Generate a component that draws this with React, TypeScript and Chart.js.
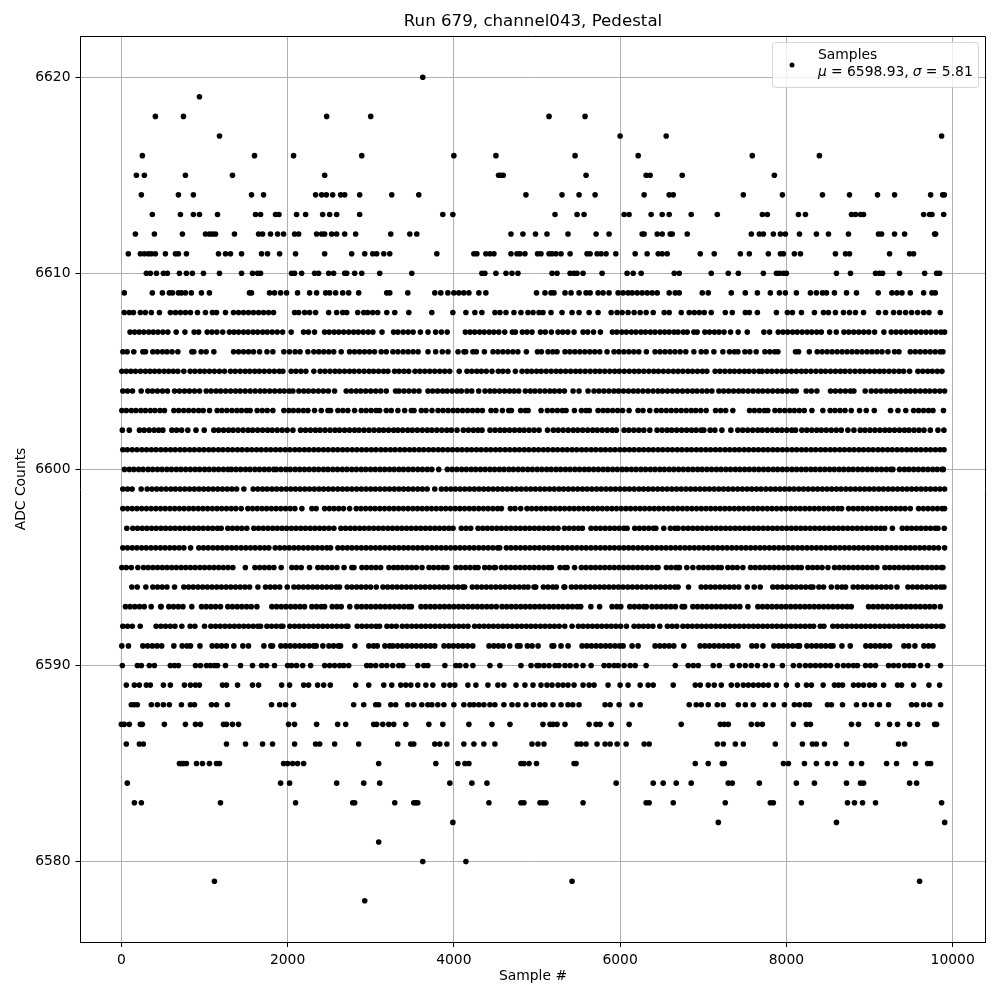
import React, { useEffect, useRef } from "react";
import { Chart, registerables } from "chart.js";

Chart.register(...registerables);

const titleText = "Run 679, channel043, Pedestal";
const xLabel = "Sample #";
const yLabel = "ADC Counts";
const legendName = "Samples";
const legendMean = "6598.93";
const legendSigma = "5.81";
const xTickValues = [0,2000,4000,6000,8000,10000];
const yTickValues = [6580,6590,6600,6610,6620];

const row6620 = [3626];
const row6619 = [940];
const row6618 = [410,747,2470,3000,5145,5578];
const row6617 = [1181,6000,6554,9867];
const row6616 = [253,1602,2072,2892,4000,4506,5458,6217,7590,8397];
const row6615 = [181,277,771,1337,2446,4538,4562,4594,5590,6313,6361,6747,7855];
const row6614 = [241,687,867,1566,1711,2337,2410,2466,2542,2638,2687,2867,3253,3578,4867,5301,5506,5699,6289,6590,6639,7482,7952,8434,8759,9096,9301,9735,9880,9900];
const row6613 = [373,711,867,940,1157,1614,1675,1855,1896,2108,2217,2422,2506,2590,2867,3867,3988,5217,5482,5566,6048,6108,6373,6506,6590,6855,7169,7711,7771,8145,8229,8783,8831,8892,8928,9651,9723,9751,9892];
const row6612 = [169,398,735,1012,1060,1096,1133,1361,1651,1699,1795,1880,1952,2084,2133,2349,2410,2446,2530,2590,2687,2819,3241,3470,3554,4687,4831,4982,5120,5373,5711,5867,6265,6289,6446,6506,6602,6627,6807,7578,7675,7723,7843,7928,7988,8157,8361,8506,8747,9108,9145,9301,9422,9783,9795];
const row6611 = [84,229,277,325,361,410,530,651,687,783,1169,1253,1313,1446,1687,1759,1904,2096,2446,2771,2928,3024,3072,3157,3229,3795,4241,4277,4385,4434,4482,4687,4759,4795,4855,5006,5048,5145,5181,5229,5289,5398,5602,5639,5723,5771,5831,5948,6181,6325,6458,6506,6566,6964,7132,7446,7554,7783,7928,7964,8096,8169,8590,8711,8759,9241,9482,9530];
const row6610 = [301,349,422,506,554,699,783,855,988,1181,1446,1578,1639,1675,2048,2084,2169,2325,2373,2494,2554,2687,2711,2807,2892,3108,3494,4337,4373,4506,4627,4699,4771,5181,5241,5398,5446,5482,5554,5783,6084,6157,6253,6651,6711,7096,7301,7422,7723,7880,7916,7964,8000,8602,8771,9072,9120,9157,9361,9663,9807,9843];
const row6609 = [36,373,494,578,615,687,723,771,843,964,1060,1542,1566,1783,1843,1916,1988,2120,2265,2349,2458,2506,2578,2663,2735,2855,3193,3229,3446,3771,3843,3928,4000,4060,4120,4181,4301,4385,4994,5096,5169,5205,5337,5410,5506,5590,5639,5735,5795,5867,5976,6036,6096,6145,6205,6265,6325,6386,6446,6590,6663,6711,6988,7060,7337,7506,7651,7807,7916,7988,8120,8289,8361,8434,8482,8578,8723,8843,9104,9269,9329,9390,9490,9651,9751,9791];
const row6608 = [36,96,145,229,289,361,458,590,651,711,771,831,916,1012,1096,1145,1253,1349,1410,1470,1530,1590,1651,1711,1771,1831,2084,2133,2205,2265,2337,2494,2590,2663,2711,2843,2916,2964,3024,3084,3193,3289,3458,3735,3988,4145,4253,4337,4494,4554,4627,4723,4807,4891,4952,5024,5072,5169,5301,5422,5506,5627,5735,5892,5964,6024,6096,6169,6241,6313,6398,6530,6590,6735,6831,6892,6952,7012,7096,7265,7349,7506,7554,7651,7880,8012,8072,8181,8337,8446,8506,8590,8687,8759,8831,8928,9108,9193,9289,9361,9434,9506,9578,9651,9715,9851];
const row6607 = [105,160,215,270,330,385,440,500,560,660,765,876,930,1033,1090,1150,1220,1300,1355,1410,1470,1525,1585,1640,1700,1755,1815,1875,1940,2043,2192,2250,2324,2445,2500,2560,2615,2675,2735,2795,2850,2910,2970,3026,3136,3275,3327,3390,3450,3510,3597,3689,3781,3850,3920,4138,4195,4250,4310,4365,4425,4480,4540,4612,4704,4740,4824,4880,4940,5041,5100,5173,5253,5310,5370,5446,5554,5610,5680,5763,5907,5960,6020,6075,6135,6190,6250,6305,6365,6420,6480,6535,6590,6650,6697,6760,6807,6887,6927,7019,7075,7135,7190,7250,7328,7420,7529,7729,7798,7902,7960,8015,8075,8130,8190,8250,8305,8365,8420,8520,8600,8692,8750,8810,8870,8930,8990,9061,9173,9261,9320,9380,9440,9500,9560,9620,9680,9740,9800,9860,9903];
const row6606 = [18,70,150,259,291,379,435,495,550,610,680,848,872,960,1020,1113,1350,1410,1470,1530,1590,1663,1752,1823,1955,2023,2091,2150,2244,2316,2375,2435,2495,2555,2645,2745,2805,2865,2925,2985,3046,3126,3187,3267,3327,3390,3450,3510,3570,3689,3781,3861,3930,4050,4122,4142,4230,4270,4367,4471,4530,4590,4650,4710,4770,4872,5005,5053,5133,5190,5241,5337,5395,5455,5515,5575,5635,5695,5755,5843,5927,5985,6045,6105,6165,6225,6316,6420,6480,6540,6600,6660,6722,6790,6887,6975,7035,7128,7236,7316,7375,7417,7501,7560,7637,7741,7800,7860,7898,8110,8146,8275,8371,8430,8490,8550,8610,8670,8730,8790,8850,8910,8970,9030,9090,9150,9221,9301,9354,9490,9550,9610,9670,9730,9790,9850,9883];
const row6605 = [6,60,115,170,230,290,345,400,455,515,570,625,680,752,828,885,945,1000,1060,1120,1180,1241,1313,1370,1430,1490,1545,1605,1660,1720,1780,1840,1900,1943,2043,2100,2160,2220,2316,2392,2450,2510,2570,2625,2685,2745,2800,2860,2920,2980,3035,3095,3155,3207,3287,3340,3400,3457,3533,3590,3650,3710,3770,3830,3890,3950,4064,4158,4215,4275,4330,4390,4459,4535,4590,4650,4740,4820,4880,4935,4995,5050,5110,5170,5230,5285,5345,5405,5465,5520,5580,5640,5700,5755,5815,5875,5935,5990,6050,6110,6170,6225,6285,6345,6405,6460,6520,6580,6640,6697,6755,6815,6870,6930,6990,7043,7143,7200,7260,7320,7375,7435,7495,7550,7610,7670,7709,7769,7825,7885,7945,8000,8060,8120,8180,8235,8295,8355,8415,8470,8530,8590,8650,8705,8765,8825,8885,8940,9000,9060,9120,9175,9235,9295,9355,9410,9482,9582,9640,9700,9755,9815,9871];
const row6604 = [18,75,135,239,319,375,435,495,555,640,700,760,820,880,941,1021,1080,1140,1195,1255,1315,1375,1430,1490,1550,1610,1670,1725,1785,1845,1905,1960,2020,2064,2136,2195,2250,2310,2370,2430,2490,2565,2705,2765,2825,2880,2940,3000,3060,3120,3187,3299,3340,3400,3460,3520,3581,3689,3745,3805,3865,3920,3980,4040,4090,4158,4215,4299,4375,4435,4490,4550,4610,4670,4725,4780,4860,4920,4975,5035,5095,5155,5210,5270,5330,5434,5506,5614,5686,5745,5805,5865,5925,5980,6040,6100,6160,6215,6275,6335,6395,6455,6510,6570,6630,6690,6750,6810,6870,6925,6985,7045,7104,7188,7245,7305,7365,7425,7480,7540,7600,7660,7715,7775,7835,7895,7950,8010,8070,8118,8238,8300,8367,8531,8590,8650,8710,8770,8812,8948,9021,9080,9140,9200,9255,9315,9375,9435,9490,9550,9610,9670,9725,9785,9845,9903];
const row6603 = [6,60,120,175,235,290,350,405,465,519,632,690,750,810,870,930,985,1061,1153,1210,1270,1330,1390,1445,1505,1550,1634,1695,1755,1823,1955,2015,2070,2130,2190,2244,2324,2405,2485,2517,2605,2665,2725,2806,2886,2945,3005,3065,3107,3187,3247,3327,3408,3488,3521,3609,3665,3737,3810,3870,3930,3990,4045,4105,4165,4225,4285,4343,4447,4505,4584,4660,4692,4804,4860,4893,5049,5125,5185,5245,5305,5350,5450,5534,5590,5630,5735,5795,5850,5910,5970,6030,6108,6216,6275,6357,6437,6495,6555,6615,6675,6735,6795,6855,6910,6970,7035,7148,7210,7270,7356,7557,7615,7675,7735,7777,7862,7920,7980,8040,8095,8155,8215,8307,8439,8527,8585,8645,8705,8780,8880,8961,9057,9253,9342,9436,9530,9590,9650,9710,9763,9889];
const row6602 = [12,96,218,275,335,395,450,500,608,665,725,800,898,997,1113,1170,1230,1290,1345,1405,1465,1525,1580,1640,1700,1760,1815,1875,1935,1995,2064,2156,2215,2275,2335,2390,2450,2510,2570,2625,2685,2745,2805,2860,2920,2980,3040,3100,3155,3215,3275,3327,3385,3445,3500,3560,3620,3680,3735,3795,3855,3915,3970,4038,4114,4175,4235,4290,4339,4435,4495,4555,4610,4670,4730,4790,4845,4905,4965,5025,5127,5197,5255,5315,5375,5435,5490,5550,5610,5670,5725,5785,5845,5905,5955,6048,6105,6165,6225,6285,6357,6445,6505,6565,6620,6680,6740,6800,6860,6915,6975,7007,7083,7140,7224,7332,7416,7475,7535,7595,7655,7710,7770,7830,7890,7945,8005,8065,8110,8186,8245,8305,8365,8420,8480,8540,8600,8660,8740,8812,8888,8945,9005,9065,9125,9185,9240,9300,9360,9420,9475,9535,9595,9655,9731,9823,9895];
const row6601 = [18,72,131,188,247,303,362,418,476,533,592,648,707,763,822,878,937,993,1052,1108,1167,1223,1282,1338,1397,1453,1512,1568,1627,1683,1742,1798,1857,1913,1972,2028,2087,2143,2202,2258,2317,2373,2432,2488,2547,2603,2662,2718,2777,2833,2892,2948,3007,3063,3122,3178,3237,3293,3352,3408,3467,3523,3582,3638,3697,3753,3812,3868,3927,3983,4042,4098,4157,4213,4272,4328,4387,4443,4502,4558,4617,4673,4732,4788,4847,4903,4962,5018,5077,5133,5192,5248,5307,5363,5422,5478,5537,5593,5652,5708,5767,5823,5882,5938,5997,6053,6112,6168,6227,6283,6342,6398,6457,6513,6572,6628,6687,6743,6802,6858,6917,6973,7032,7088,7147,7203,7262,7318,7377,7433,7492,7548,7607,7663,7722,7778,7837,7893,7952,8008,8067,8123,8182,8238,8297,8353,8412,8468,8527,8583,8642,8698,8757,8813,8872,8928,8987,9043,9102,9158,9217,9273,9332,9388,9447,9503,9562,9618,9677,9733,9792,9848,9896];
const row6600 = [38,96,150,208,262,322,377,435,490,548,603,662,716,774,830,888,942,1002,1056,1114,1170,1228,1284,1325,1380,1436,1494,1548,1607,1662,1720,1775,1834,1865,1920,1978,2032,2091,2146,2204,2260,2318,2373,2432,2486,2544,2600,2658,2714,2772,2827,2886,2940,2998,3054,3112,3168,3226,3282,3340,3394,3452,3508,3566,3622,3680,3735,3818,3922,3980,4036,4094,4150,4208,4262,4320,4376,4434,4490,4548,4604,4662,4716,4774,4830,4888,4944,5002,5058,5116,5170,5228,5284,5342,5398,5456,5512,5570,5624,5682,5738,5796,5852,5910,5966,6024,6078,6136,6192,6250,6306,6364,6420,6478,6532,6590,6646,6704,6760,6818,6874,6932,6986,7044,7100,7158,7214,7272,7328,7386,7440,7498,7554,7612,7668,7726,7782,7840,7894,7952,8008,8066,8122,8180,8236,8294,8348,8406,8462,8520,8576,8634,8690,8748,8802,8860,8916,8974,9030,9088,9144,9202,9256,9281,9361,9420,9474,9532,9588,9646,9702,9760,9814,9872,9888];
const row6599 = [18,74,130,239,311,368,425,481,538,595,651,708,764,821,878,934,991,1047,1104,1160,1217,1274,1330,1387,1474,1586,1642,1699,1755,1812,1868,1925,1982,2038,2095,2151,2208,2264,2321,2378,2434,2491,2547,2604,2660,2717,2774,2830,2887,2943,3000,3056,3113,3170,3226,3283,3339,3396,3452,3509,3566,3622,3679,3770,3850,3906,3963,4019,4076,4132,4189,4246,4302,4359,4415,4472,4528,4585,4642,4698,4755,4811,4868,4924,4981,5038,5094,5151,5207,5264,5320,5377,5434,5490,5547,5603,5660,5716,5773,5830,5886,5943,5999,6056,6112,6169,6226,6282,6339,6395,6452,6508,6565,6622,6678,6735,6791,6848,6904,6961,7018,7074,7131,7187,7244,7300,7357,7414,7470,7527,7583,7640,7696,7753,7810,7866,7923,7979,8036,8092,8149,8206,8262,8319,8375,8432,8488,8545,8602,8658,8715,8771,8828,8884,8941,8998,9054,9111,9167,9224,9280,9337,9394,9450,9507,9563,9620,9676,9733,9790,9846,9903];
const row6598 = [18,75,132,188,245,302,358,415,472,528,585,642,698,755,812,868,925,982,1038,1095,1152,1208,1265,1322,1378,1442,1522,1578,1635,1692,1748,1805,1862,1918,1975,2032,2088,2172,2292,2344,2445,2502,2558,2615,2672,2746,2826,2882,2939,2996,3052,3109,3166,3222,3279,3336,3392,3449,3506,3562,3619,3676,3732,3789,3846,3902,3959,4016,4072,4129,4186,4242,4299,4356,4412,4469,4526,4572,4680,4736,4804,4880,4936,4993,5050,5106,5163,5220,5276,5333,5390,5446,5503,5560,5616,5673,5730,5786,5843,5900,5956,6013,6070,6126,6183,6240,6296,6353,6410,6466,6523,6580,6636,6693,6750,6806,6863,6920,6976,7033,7090,7146,7203,7260,7316,7373,7430,7486,7543,7600,7656,7713,7770,7826,7883,7940,7996,8053,8110,8166,8223,8280,8336,8393,8450,8506,8563,8620,8664,8748,8805,8862,8918,8975,9032,9088,9145,9202,9258,9315,9372,9428,9490,9590,9647,9703,9760,9817,9873,9903];
const row6597 = [66,138,194,251,307,364,420,477,533,590,646,703,759,816,872,929,985,1042,1098,1155,1201,1281,1337,1394,1450,1510,1594,1650,1707,1763,1820,1876,1933,1989,2046,2102,2159,2215,2272,2328,2385,2441,2498,2557,2641,2697,2754,2810,2867,2923,2980,3036,3093,3149,3206,3262,3319,3375,3432,3488,3545,3601,3658,3714,3771,3827,3884,3940,3990,4090,4147,4203,4291,4347,4404,4460,4517,4573,4630,4686,4743,4799,4856,4912,4969,5025,5082,5138,5195,5253,5330,5386,5443,5499,5546,5650,5707,5763,5820,5876,5933,5989,6046,6084,6176,6232,6289,6345,6402,6430,6525,6605,6661,6697,6760,6817,6873,6930,6986,7043,7099,7156,7212,7269,7325,7382,7438,7495,7551,7608,7664,7721,7777,7834,7890,7947,8003,8060,8116,8173,8229,8286,8342,8399,8455,8512,8568,8625,8681,8738,8794,8851,8907,8964,9020,9077,9133,9181,9275,9394,9451,9507,9564,9620,9677,9733,9790,9823,9899];
const row6596 = [18,74,131,187,244,300,357,413,470,526,583,639,696,752,833,932,989,1045,1102,1158,1215,1271,1328,1384,1441,1497,1554,1610,1667,1723,1775,1851,1907,1964,2020,2077,2133,2190,2246,2303,2359,2416,2472,2517,2605,2661,2718,2774,2831,2887,2944,3000,3057,3113,3170,3226,3283,3339,3396,3452,3509,3565,3622,3678,3735,3791,3848,3904,3961,4017,4074,4130,4187,4243,4300,4356,4413,4469,4526,4552,4632,4688,4745,4801,4858,4914,4971,5027,5084,5140,5197,5253,5310,5366,5423,5479,5536,5592,5649,5705,5762,5818,5875,5931,5988,6044,6101,6157,6214,6270,6327,6383,6440,6496,6553,6609,6666,6722,6779,6835,6892,6948,7005,7061,7118,7174,7231,7287,7344,7400,7457,7513,7570,7626,7683,7739,7796,7852,7909,7965,8022,8078,8135,8191,8248,8304,8361,8417,8474,8530,8587,8643,8700,8756,8813,8869,8926,8982,9039,9095,9152,9208,9265,9321,9378,9434,9491,9547,9604,9660,9717,9773,9830,9903];
const row6595 = [6,60,120,199,267,323,380,436,493,549,606,662,719,775,832,888,945,1001,1058,1114,1171,1227,1284,1342,1492,1607,1665,1722,1778,1835,1923,2051,2107,2164,2264,2364,2420,2477,2533,2593,2679,2773,2798,2894,2950,3007,3063,3119,3219,3276,3327,3380,3436,3493,3549,3617,3701,3757,3814,3870,3918,4026,4082,4139,4195,4252,4291,4371,4427,4484,4499,4571,4627,4684,4740,4797,4853,4910,4966,5023,5079,5136,5173,5277,5333,5362,5452,5534,5590,5647,5703,5760,5816,5873,5929,5986,6042,6099,6155,6212,6268,6325,6381,6438,6457,6557,6613,6670,6697,6714,6802,6875,6947,7003,7060,7116,7173,7216,7296,7353,7409,7477,7569,7625,7682,7738,7795,7851,7908,7964,8021,8077,8134,8179,8259,8316,8372,8429,8500,8579,8635,8692,8748,8805,8861,8918,8974,9031,9089,9185,9241,9298,9354,9411,9467,9524,9580,9637,9693,9750,9806,9863,9883];
const row6594 = [126,191,295,379,436,492,549,640,752,809,865,922,978,1035,1091,1148,1204,1261,1317,1374,1430,1487,1543,1643,1735,1792,1848,1905,1996,2076,2132,2189,2245,2302,2358,2415,2471,2528,2584,2625,2717,2773,2830,2886,2943,2999,3067,3147,3203,3260,3316,3373,3429,3486,3542,3599,3655,3712,3768,3825,3881,3938,3994,4051,4107,4130,4222,4278,4335,4391,4448,4504,4561,4617,4674,4730,4787,4843,4892,4964,4985,5077,5133,5190,5233,5325,5334,5414,5470,5527,5583,5640,5696,5753,5809,5866,5922,5979,6035,6092,6148,6205,6261,6318,6374,6431,6487,6544,6600,6657,6697,6823,6975,7031,7088,7144,7201,7257,7314,7370,7427,7529,7613,7685,7837,7893,7950,8006,8063,8119,8176,8232,8289,8319,8391,8447,8540,8612,8668,8712,8804,8860,8917,8973,9030,9086,9143,9199,9256,9330,9462,9518,9575,9631,9688,9744,9801,9857,9895];
const row6593 = [50,106,163,220,276,359,473,479,572,628,685,741,848,965,1021,1078,1134,1193,1281,1337,1394,1450,1507,1563,1631,1811,1867,1924,1980,2037,2093,2150,2204,2292,2348,2405,2445,2537,2593,2645,2748,2834,2890,2947,3003,3060,3116,3173,3229,3286,3342,3399,3455,3489,3605,3661,3718,3774,3831,3887,3944,4000,4057,4113,4170,4226,4283,4339,4396,4452,4511,4579,4635,4692,4748,4805,4861,4918,4974,5031,5087,5144,5200,5257,5313,5370,5426,5483,5526,5648,5753,5903,5960,6008,6116,6172,6229,6285,6316,6384,6440,6497,6553,6610,6665,6746,6775,6875,6931,6988,7044,7101,7157,7214,7270,7327,7383,7440,7537,7657,7713,7770,7826,7883,7939,7996,8052,8109,8165,8222,8278,8335,8391,8448,8504,8561,8617,8674,8730,8780,8989,9045,9102,9158,9215,9271,9328,9384,9441,9497,9554,9610,9667,9723,9780,9851];
const row6592 = [18,75,132,227,419,476,532,589,645,728,828,885,1001,1077,1134,1190,1247,1303,1360,1416,1473,1529,1586,1642,1675,1751,1807,1864,1920,1943,2027,2084,2140,2197,2253,2310,2366,2423,2479,2536,2592,2649,2705,2726,2838,2895,2951,3008,3064,3107,3195,3251,3308,3380,3436,3493,3549,3606,3662,3719,3775,3832,3888,3945,4001,4058,4114,4170,4250,4306,4363,4419,4476,4532,4589,4645,4702,4758,4815,4871,4928,4984,5041,5097,5154,5210,5267,5334,5422,5498,5554,5611,5667,5724,5780,5837,5893,5950,6006,6076,6168,6224,6281,6337,6394,6477,6569,6625,6682,6755,6812,6868,6925,6981,7038,7094,7151,7207,7264,7320,7377,7433,7490,7546,7603,7659,7716,7772,7829,7885,7942,7998,8055,8111,8168,8224,8281,8327,8407,8451,8559,8615,8672,8728,8785,8841,8898,8954,9011,9067,9124,9180,9237,9293,9350,9406,9463,9519,9576,9632,9689,9745,9802,9858,9883];
const row6591 = [6,86,259,316,373,430,486,632,732,789,832,946,1093,1150,1206,1263,1354,1462,1530,1715,1799,1819,1919,1975,2032,2088,2145,2201,2258,2314,2344,2424,2497,2553,2610,2637,2810,2978,3035,3079,3171,3228,3267,3323,3380,3436,3493,3549,3606,3662,3719,3770,3882,3939,3995,4052,4108,4165,4227,4423,4480,4536,4593,4672,4764,4796,4884,4941,5013,5181,5201,5289,5374,5542,5599,5655,5712,5768,5825,5881,5938,5994,6036,6144,6216,6420,6477,6533,6590,6646,6766,6962,7019,7075,7132,7188,7245,7301,7358,7417,7585,7641,7717,7850,7907,7963,8020,8076,8133,8158,8247,8304,8360,8417,8473,8530,8560,8668,8768,8956,9013,9069,9126,9182,9241,9414,9471,9546,9654,9710,9763];
const row6590 = [12,193,241,337,398,590,639,687,892,952,1024,1072,1120,1157,1253,1434,1578,1687,1747,1843,2000,2048,2108,2181,2277,2446,2506,2566,2627,2675,2735,2952,3000,3060,3133,3193,3265,3337,3386,3566,3639,3687,3892,4024,4072,4145,4229,4434,4554,4807,4928,5000,5024,5084,5145,5217,5265,5337,5398,5470,5554,5651,5807,5867,5928,5976,6048,6120,6181,6313,6663,6819,6880,6940,7120,7193,7349,7434,7506,7578,7651,7747,7831,7952,8084,8157,8229,8289,8349,8410,8470,8530,8614,8687,8747,8807,8855,8952,9012,9072,9229,9289,9349,9422,9482,9530,9614,9699,9855];
const row6589 = [60,157,217,301,349,506,590,759,831,892,940,1217,1265,1398,1578,1651,1928,2024,2193,2253,2361,2434,2514,2819,2976,3157,3253,3361,3422,3482,3566,3663,3747,3880,3952,4012,4169,4265,4410,4530,4602,4747,4855,4952,5048,5120,5181,5253,5313,5373,5446,5554,5627,5687,5855,6000,6096,6241,6337,6398,6639,6904,6964,7060,7132,7217,7337,7410,7482,7542,7602,7663,7723,7783,7880,8000,8133,8241,8301,8442,8578,8627,8675,8807,8867,8928,9000,9060,9169,9337,9385,9530,9715,9843];
const row6588 = [120,157,193,361,434,506,578,723,831,880,1084,1145,1277,1807,1904,1976,2072,2795,2916,3060,3096,3241,3301,3446,3518,3614,3687,3735,3807,3880,4000,4120,4193,4241,4301,4361,4434,4494,4602,4699,4771,4867,4958,5036,5096,5193,5289,5373,5430,5506,5819,5880,5988,6145,6241,6831,6916,6976,7060,7169,7241,7422,7506,7602,7747,7843,7976,8096,8157,8229,8277,8494,8542,8675,8843,8940,9024,9120,9229,9506,9566,9651,9723,9855];
const row6587 = [0,36,96,229,253,518,771,892,952,1229,1265,1337,1410,2012,2084,2349,2602,2699,3036,3072,3145,3217,3277,3422,3699,3867,4181,4458,4675,5072,5157,5193,5241,5337,5627,5711,5759,5892,6108,6735,7205,7253,7301,7578,7651,7711,8084,8241,8289,8783,8867,9096,9241,9337,9482,9578,9783,9807];
const row6586 = [60,217,265,1265,1494,1699,1819,2084,2337,2386,2566,2855,3325,3482,3518,3771,3831,3916,4120,4241,4361,4494,4940,5012,5084,5482,5530,5590,5723,5819,5880,5964,6072,6289,6349,7169,7241,7386,7482,7867,8193,8313,8361,8458,8723,9349,9422];
const row6585 = [699,723,747,783,904,976,1060,1145,1181,1952,2000,2060,2120,2193,3096,3783,4048,4133,4181,4807,4843,4904,4994,5446,5470,6904,7060,7229,7253,7964,8024,8217,8361,8494,8590,8783,8904,9205,9325,9554,9699,9735];
const row6584 = [72,1916,2024,2590,2916,3108,3952,4217,4398,5952,6398,6518,6675,6855,7301,7349,7675,8120,8337,8723,8892,8928,9482,9566];
const row6583 = [157,241,1193,2096,2783,2807,3289,3518,3542,3566,4422,4807,4843,5036,5072,5108,5554,6313,6349,6639,7265,7807,7843,8181,8735,8819,8916,9072,9867];
const row6582 = [3988,7181,8602,9904];
const row6581 = [3096];
const row6580 = [3626,4145];
const row6579 = [1120,5422,9602];
const row6578 = [2928];

const levels = [6620,6619,6618,6617,6616,6615,6614,6613,6612,6611,6610,6609,6608,6607,6606,6605,6604,6603,6602,6601,6600,6599,6598,6597,6596,6595,6594,6593,6592,6591,6590,6589,6588,6587,6586,6585,6584,6583,6582,6581,6580,6579,6578];
const rows = [row6620,row6619,row6618,row6617,row6616,row6615,row6614,row6613,row6612,row6611,row6610,row6609,row6608,row6607,row6606,row6605,row6604,row6603,row6602,row6601,row6600,row6599,row6598,row6597,row6596,row6595,row6594,row6593,row6592,row6591,row6590,row6589,row6588,row6587,row6586,row6585,row6584,row6583,row6582,row6581,row6580,row6579,row6578];

const FONT = '"DejaVu Sans", sans-serif';

const framePlugin = {
  id: "frameAndLegend",
  afterDraw(chart: any) {
    const { ctx, chartArea: a } = chart;
    ctx.save();
    ctx.strokeStyle = "#000";
    ctx.lineWidth = 1;
    ctx.beginPath();
    ctx.moveTo(Math.floor(a.left), Math.floor(a.top) + 0.5);
    ctx.lineTo(Math.floor(a.right) + 0.5, Math.floor(a.top) + 0.5);
    ctx.lineTo(Math.floor(a.right) + 0.5, Math.floor(a.bottom));
    ctx.stroke();

    const bx = 772, by = 42, bw = 206, bh = 45, r = 3;
    ctx.beginPath();
    ctx.roundRect(bx + 0.5, by + 0.5, bw, bh, r);
    ctx.fillStyle = "rgba(255,255,255,0.8)";
    ctx.fill();
    ctx.strokeStyle = "rgba(204,204,204,0.8)";
    ctx.stroke();

    ctx.beginPath();
    ctx.arc(792, 65, 2.5, 0, Math.PI * 2);
    ctx.fillStyle = "#000";
    ctx.fill();

    ctx.textBaseline = "alphabetic";
    ctx.textAlign = "left";
    ctx.fillStyle = "#000";
    ctx.font = `13.89px ${FONT}`;
    ctx.fillText(legendName, 818, 59);
    let x = 818;
    const y = 76;
    const parts: [string, boolean][] = [
      ["\u03bc", true],
      [` = ${legendMean}, `, false],
      ["\u03c3", true],
      [` = ${legendSigma}`, false],
    ];
    for (const [t, it] of parts) {
      ctx.font = `${it ? "italic " : ""}13.89px ${FONT}`;
      ctx.fillText(t, x, y);
      x += ctx.measureText(t).width - 0.3;
    }
    ctx.restore();
  },
};

export default function App() {
  const ref = useRef<HTMLCanvasElement>(null);
  useEffect(() => {
    const points = rows.flatMap((r, i) => r.map((x) => ({ x, y: levels[i] })));
    const chart = new Chart(ref.current!, {
      type: "scatter",
      data: {
        datasets: [
          {
            label: legendName,
            data: points,
            backgroundColor: "#000",
            borderWidth: 0,
            pointRadius: 2.8,
            pointHoverRadius: 2.8,
          },
        ],
      },
      options: {
        animation: false,
        responsive: false,
        devicePixelRatio: 1,
        layout: { padding: { left: 0, right: 14.5, top: 0, bottom: 0 } },
        plugins: {
          legend: { display: false },
          tooltip: { enabled: false },
          title: {
            display: true,
            fullSize: false,
            text: titleText,
            color: "#000",
            font: { family: FONT, size: 16.67, weight: "normal", lineHeight: 1.2 },
            padding: { top: 12, bottom: 4 },
          },
        },
        scales: {
          x: {
            type: "linear",
            min: -491,
            max: 10395,
            afterBuildTicks: (s: any) => { s.ticks = xTickValues.map((value) => ({ value })); },
            afterFit: (s: any) => { s.height = 58; },
            border: { color: "#000", width: 1 },
            grid: { color: "#b0b0b0", lineWidth: 1, tickColor: "#000", tickLength: 5 },
            ticks: {
              autoSkip: false,
              maxRotation: 0,
              color: "#000",
              padding: 5,
              font: { family: FONT, size: 13.89 },
              callback: (v: any) => String(v),
            },
            title: {
              display: true,
              text: xLabel,
              color: "#000",
              font: { family: FONT, size: 13.89 },
              padding: { top: 0, bottom: 15 },
            },
          },
          y: {
            type: "linear",
            min: 6575.9,
            max: 6622.1,
            afterBuildTicks: (s: any) => { s.ticks = yTickValues.map((value) => ({ value })); },
            afterFit: (s: any) => { s.width = 80.5; },
            border: { color: "#000", width: 1 },
            grid: { color: "#b0b0b0", lineWidth: 1, tickColor: "#000", tickLength: 5 },
            ticks: {
              autoSkip: false,
              color: "#000",
              padding: 5,
              font: { family: FONT, size: 13.89 },
              callback: (v: any) => String(v),
            },
            title: {
              display: true,
              text: yLabel,
              color: "#000",
              font: { family: FONT, size: 13.89 },
              padding: { top: 13, bottom: 0 },
            },
          },
        },
      },
      plugins: [framePlugin],
    } as any);
    return () => chart.destroy();
  }, []);
  return (
    <canvas
      ref={ref}
      width={1000}
      height={1000}
      style={{ position: "absolute", left: 0, top: 0, display: "block" }}
    />
  );
}
